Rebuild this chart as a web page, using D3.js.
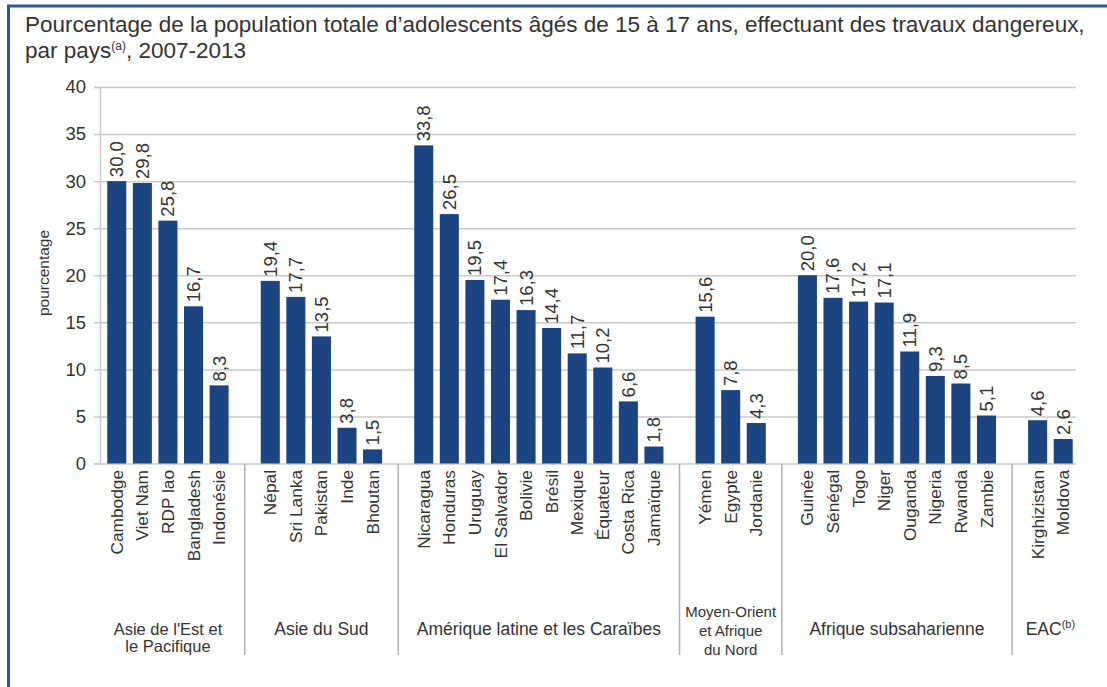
<!DOCTYPE html>
<html>
<head>
<meta charset="utf-8">
<script src="https://cdn.jsdelivr.net/npm/d3@7"></script>
<style>
  body { margin: 0; background: #fff; }
  svg { display: block; }
  text { font-family: "Liberation Sans", Arial, sans-serif; fill: #333; }
</style>
</head>
<body>
<svg id="chart" width="1107" height="687"></svg>
<script>
// Regions (label lines), countries and values (% of 15-17 year olds in hazardous work)
const regionLines = [
  ["Asie de l'Est et", "le Pacifique"],
  ["Asie du Sud"],
  ["Amérique latine et les Caraïbes"],
  ["Moyen-Orient", "et Afrique", "du Nord"],
  ["Afrique subsaharienne"],
  ["EAC"]
];
const regionNotes = ["", "", "", "", "", "(b)"];

const countries = [
  ["Cambodge", "Viet Nam", "RDP lao", "Bangladesh", "Indonésie"],
  ["Népal", "Sri Lanka", "Pakistan", "Inde", "Bhoutan"],
  ["Nicaragua", "Honduras", "Uruguay", "El Salvador", "Bolivie", "Brésil", "Mexique", "Équateur", "Costa Rica", "Jamaïque"],
  ["Yémen", "Egypte", "Jordanie"],
  ["Guinée", "Sénégal", "Togo", "Niger", "Ouganda", "Nigeria", "Rwanda", "Zambie"],
  ["Kirghizistan", "Moldova"]
];
const values = [
  [30.0, 29.8, 25.8, 16.7, 8.3],
  [19.4, 17.7, 13.5, 3.8, 1.5],
  [33.8, 26.5, 19.5, 17.4, 16.3, 14.4, 11.7, 10.2, 6.6, 1.8],
  [15.6, 7.8, 4.3],
  [20.0, 17.6, 17.2, 17.1, 11.9, 9.3, 8.5, 5.1],
  [4.6, 2.6]
];
const yTicks = [0, 5, 10, 15, 20, 25, 30, 35, 40];

const titleLine1 = "Pourcentage de la population totale d’adolescents âgés de 15 à 17 ans, effectuant des travaux dangereux,";
const titleLine2 = "par pays";
const titleNote = "(a)";
const titleTail = ", 2007-2013";
const yLabel = "pourcentage";

const svg = d3.select("#chart");
const barColor = "#1c4481";
const gridColor = "#c9c9c9";
const fr = d3.formatLocale({ decimal: ",", thousands: " ", grouping: [3], currency: ["", " €"] });
const fmt = fr.format(".1f");

// Frame
svg.append("rect")
  .attr("x", 8.5).attr("y", 6)
  .attr("width", 1300).attr("height", 900)
  .attr("fill", "none")
  .attr("stroke", "#2d5594")
  .attr("stroke-width", 3);

// Title
const title = svg.append("g");
const t1 = title.append("text").attr("x", 25).attr("y", 32).style("font-size", "20px").text(titleLine1);
const w = t1.node().getComputedTextLength();
const titleSize = 20 * 1060 / w;
t1.style("font-size", titleSize + "px");
const t2 = title.append("text").attr("x", 25).attr("y", 57.5).style("font-size", titleSize + "px");
t2.append("tspan").text(titleLine2);
t2.append("tspan").attr("dy", -8).style("font-size", "12px").text(titleNote);
t2.append("tspan").attr("dy", 8).text(titleTail);

// Slots: countries with one empty slot between regions
const slots = [];
const rows = [];
countries.forEach((list, g) => {
  if (g > 0) slots.push("gap" + g);
  list.forEach((c, i) => {
    slots.push(c);
    rows.push({ country: c, value: values[g][i], group: g });
  });
});

const x = d3.scaleBand().domain(slots).range([104, 1076]).paddingInner(0.256).paddingOuter(0.128);
const y = d3.scaleLinear().domain([0, 40]).range([463.5, 87]);
const bw = x.bandwidth();

// Gridlines
svg.append("g")
  .attr("transform", "translate(100,0)")
  .call(d3.axisRight(y).tickValues(yTicks).tickSize(976).tickFormat(""))
  .call(g => g.select(".domain").remove())
  .call(g => g.selectAll("line").attr("stroke", gridColor).attr("stroke-width", 1.5));

// Y axis
svg.append("g")
  .attr("transform", "translate(100,0)")
  .call(d3.axisLeft(y).tickValues(yTicks).tickSize(6).tickPadding(8))
  .call(g => g.select(".domain").attr("stroke", gridColor).attr("stroke-width", 1.5))
  .call(g => g.selectAll("line").attr("stroke", gridColor).attr("stroke-width", 1.5))
  .call(g => g.selectAll("text").style("font-size", "18.5px").attr("fill", "#333"));

svg.append("text")
  .attr("transform", "translate(48.5,273) rotate(-90)")
  .attr("text-anchor", "middle")
  .style("font-size", "15.5px")
  .text(yLabel);

// Bars
svg.append("g").selectAll("rect").data(rows).join("rect")
  .attr("x", d => x(d.country))
  .attr("width", bw)
  .attr("y", d => y(d.value))
  .attr("height", d => y(0) - y(d.value))
  .attr("fill", barColor);

// Value labels
svg.append("g").selectAll("text").data(rows).join("text")
  .attr("transform", d => `translate(${x(d.country) + bw / 2},${y(d.value) - 4}) rotate(-90)`)
  .attr("dy", "0.35em")
  .style("font-size", "18.5px")
  .text(d => fmt(d.value));

// Country labels
svg.append("g").selectAll("text").data(rows).join("text")
  .attr("transform", d => `translate(${x(d.country) + bw / 2},470) rotate(-90)`)
  .attr("text-anchor", "end")
  .attr("dy", "0.35em")
  .style("font-size", "17.3px")
  .text(d => d.country);

// Region separators
const gaps = slots.filter(s => s.startsWith("gap"));
svg.append("g").selectAll("line").data(gaps).join("line")
  .attr("x1", d => x(d) + bw / 2).attr("x2", d => x(d) + bw / 2)
  .attr("y1", 464).attr("y2", 655)
  .attr("stroke", "#b0b0b0")
  .attr("stroke-width", 1.5);

// Region labels: longer stacks are set smaller and more open
const labelSize = { 1: 17.5, 2: 16.5, 3: 15 };
regionLines.forEach((lines, g) => {
  const list = countries[g];
  const cx = (x(list[0]) + x(list[list.length - 1]) + bw) / 2;
  const start = lines.length === 3 ? 617 : 635;
  const step = lines.length === 3 ? 19 : 16.5;
  lines.forEach((ln, i) => {
    const t = svg.append("text")
      .attr("x", cx)
      .attr("y", start + i * step)
      .attr("text-anchor", "middle")
      .style("font-size", labelSize[lines.length] + "px");
    t.append("tspan").text(ln);
    if (regionNotes[g] && i === lines.length - 1) {
      t.append("tspan").attr("dy", -7).style("font-size", "11px").text(regionNotes[g]);
    }
  });
});
</script>
</body>
</html>
